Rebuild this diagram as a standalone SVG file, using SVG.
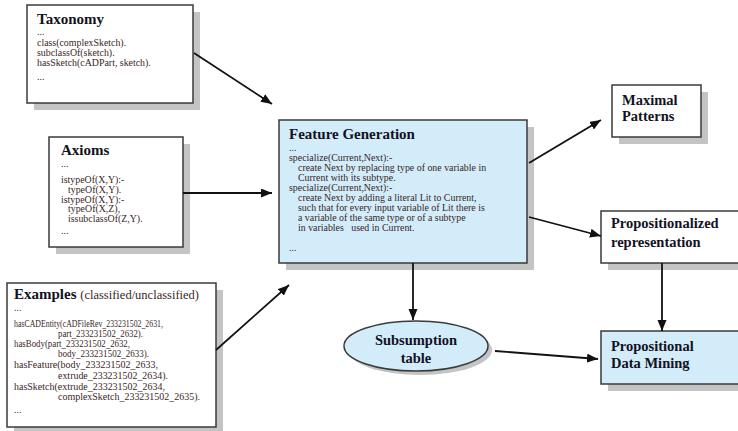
<svg xmlns="http://www.w3.org/2000/svg" width="738" height="431" viewBox="0 0 738 431">
<style>
.box{fill:#ffffff;stroke:#3a3a3a;stroke-width:1.5}
.blue{fill:#d2ecfa;stroke:#3a3a3a;stroke-width:1.5}
.shadow{fill:#c4c4c4}
.title{font-family:"Liberation Serif","Times New Roman","DejaVu Serif",serif;font-weight:700;font-size:15px;fill:#12121e}
.ntitle{font-family:"Liberation Serif","Times New Roman","DejaVu Serif",serif;font-weight:700;font-size:14.5px;fill:#12121e}
.body{font-family:"Liberation Serif","Times New Roman",serif;font-size:9.9px;fill:#3a2626}
.ex{font-family:"Liberation Serif","Times New Roman",serif;font-size:9.8px;fill:#3a2626}
.sub{font-family:"Liberation Serif","Times New Roman",serif;font-size:12.5px;fill:#3a2626;font-weight:400}
.conn{stroke:#111;stroke-width:1.8;fill:none;marker-end:url(#ah)}
</style>
<defs>
<marker id="ah" markerUnits="userSpaceOnUse" markerWidth="12" markerHeight="10" refX="11" refY="4.5" orient="auto">
<path d="M0,0 L11,4.5 L0,9 z" fill="#111"/>
</marker>
</defs>
<rect width="738" height="431" fill="#ffffff"/>

<g id="taxonomy">
<rect class="shadow" x="34" y="12" width="166" height="98"/>
<rect class="box" x="27" y="5" width="166" height="98"/>
<text class="title" x="37" y="24">Taxonomy</text>
<text class="body" x="37" y="35">...</text>
<text class="body" x="37" y="46">class(complexSketch).</text>
<text class="body" x="37" y="56">subclassOf(sketch).</text>
<text class="body" x="37" y="66">hasSketch(cADPart, sketch).</text>
<text class="body" x="37" y="80">...</text>
</g>

<g id="axioms">
<rect class="shadow" x="56" y="144" width="134" height="110"/>
<rect class="box" x="49" y="137" width="134" height="110"/>
<text class="title" x="61" y="155">Axioms</text>
<text class="body" x="61" y="167">...</text>
<text class="body" x="61" y="183">istypeOf(X,Y):-</text>
<text class="body" x="68" y="193">typeOf(X,Y).</text>
<text class="body" x="61" y="202.5">istypeOf(X,Y):-</text>
<text class="body" x="68" y="212">typeOf(X,Z),</text>
<text class="body" x="68" y="222">issubclassOf(Z,Y).</text>
<text class="body" x="61" y="234">...</text>
</g>

<g id="examples">
<rect class="shadow" x="14" y="290" width="209" height="144"/>
<rect class="box" x="7" y="283" width="209" height="144"/>
<text class="title" x="14" y="299">Examples <tspan class="sub">(classified/unclassified)</tspan></text>
<text class="ex" x="14" y="311">...</text>
<text class="ex" x="14" y="327" textLength="149" lengthAdjust="spacingAndGlyphs">hasCADEntity(cADFileRev_233231502_2631,</text>
<text class="ex" x="58" y="337" textLength="85" lengthAdjust="spacingAndGlyphs">part_233231502_2632).</text>
<text class="ex" x="14" y="347" textLength="116" lengthAdjust="spacingAndGlyphs">hasBody(part_233231502_2632,</text>
<text class="ex" x="58" y="357" textLength="91" lengthAdjust="spacingAndGlyphs">body_233231502_2633).</text>
<text class="ex" x="14" y="368" textLength="144" lengthAdjust="spacingAndGlyphs">hasFeature(body_233231502_2633,</text>
<text class="ex" x="58" y="379" textLength="110" lengthAdjust="spacingAndGlyphs">extrude_233231502_2634).</text>
<text class="ex" x="14" y="390" textLength="151" lengthAdjust="spacingAndGlyphs">hasSketch(extrude_233231502_2634,</text>
<text class="ex" x="58" y="400" textLength="142" lengthAdjust="spacingAndGlyphs">complexSketch_233231502_2635).</text>
<text class="ex" x="14" y="413">...</text>
</g>

<g id="feature-generation">
<rect class="shadow" x="286" y="127" width="248" height="143"/>
<rect class="blue" x="279" y="120" width="248" height="143"/>
<text class="title" x="289" y="138.5">Feature Generation</text>
<text class="body" x="289" y="151">...</text>
<text class="body" x="289" y="160.5">specialize(Current,Next):-</text>
<text class="body" x="298" y="170.5">create Next by replacing type of one variable in</text>
<text class="body" x="298" y="180.5">Current with its subtype.</text>
<text class="body" x="289" y="190.5">specialize(Current,Next):-</text>
<text class="body" x="298" y="200.5">create Next by adding a literal Lit to Current,</text>
<text class="body" x="298" y="210.5">such that for every input variable of Lit there is</text>
<text class="body" x="298" y="220.5">a variable of the same type or of a subtype</text>
<text class="body" x="298" y="230.5" xml:space="preserve">in variables   used in Current.</text>
<text class="body" x="289" y="251">...</text>
</g>

<g id="maximal-patterns">
<rect class="shadow" x="619" y="92" width="89" height="52"/>
<rect class="box" x="612" y="85" width="89" height="52"/>
<text class="ntitle" x="622" y="105">Maximal</text>
<text class="ntitle" x="622" y="121">Patterns</text>
</g>

<g id="propositionalized">
<rect class="shadow" x="608" y="218" width="140" height="52"/>
<rect class="box" x="601" y="211" width="140" height="52"/>
<text class="ntitle" x="611" y="228">Propositionalized</text>
<text class="ntitle" x="611" y="247">representation</text>
</g>

<g id="subsumption-table">
<ellipse class="shadow" cx="420" cy="350" rx="72" ry="25"/>
<ellipse class="blue" cx="416" cy="346" rx="72" ry="25"/>
<text class="ntitle" x="416" y="345" text-anchor="middle">Subsumption</text>
<text class="ntitle" x="416" y="363" text-anchor="middle">table</text>
</g>

<g id="propositional-data-mining">
<rect class="shadow" x="608" y="338" width="140" height="53"/>
<rect class="blue" x="601" y="331" width="140" height="53"/>
<text class="ntitle" x="611" y="351">Propositional</text>
<text class="ntitle" x="611" y="368">Data Mining</text>
</g>

<g id="connectors">
<line class="conn" x1="194" y1="53" x2="272" y2="104"/>
<line class="conn" x1="183" y1="193" x2="272" y2="193"/>
<line class="conn" x1="216" y1="350" x2="289" y2="285"/>
<line class="conn" x1="529" y1="163" x2="601" y2="120"/>
<line class="conn" x1="529" y1="217" x2="601" y2="236"/>
<line class="conn" x1="413" y1="263" x2="413" y2="320"/>
<line class="conn" x1="662" y1="263" x2="662" y2="331"/>
<line class="conn" x1="495" y1="351" x2="598" y2="359"/>
</g>
</svg>
